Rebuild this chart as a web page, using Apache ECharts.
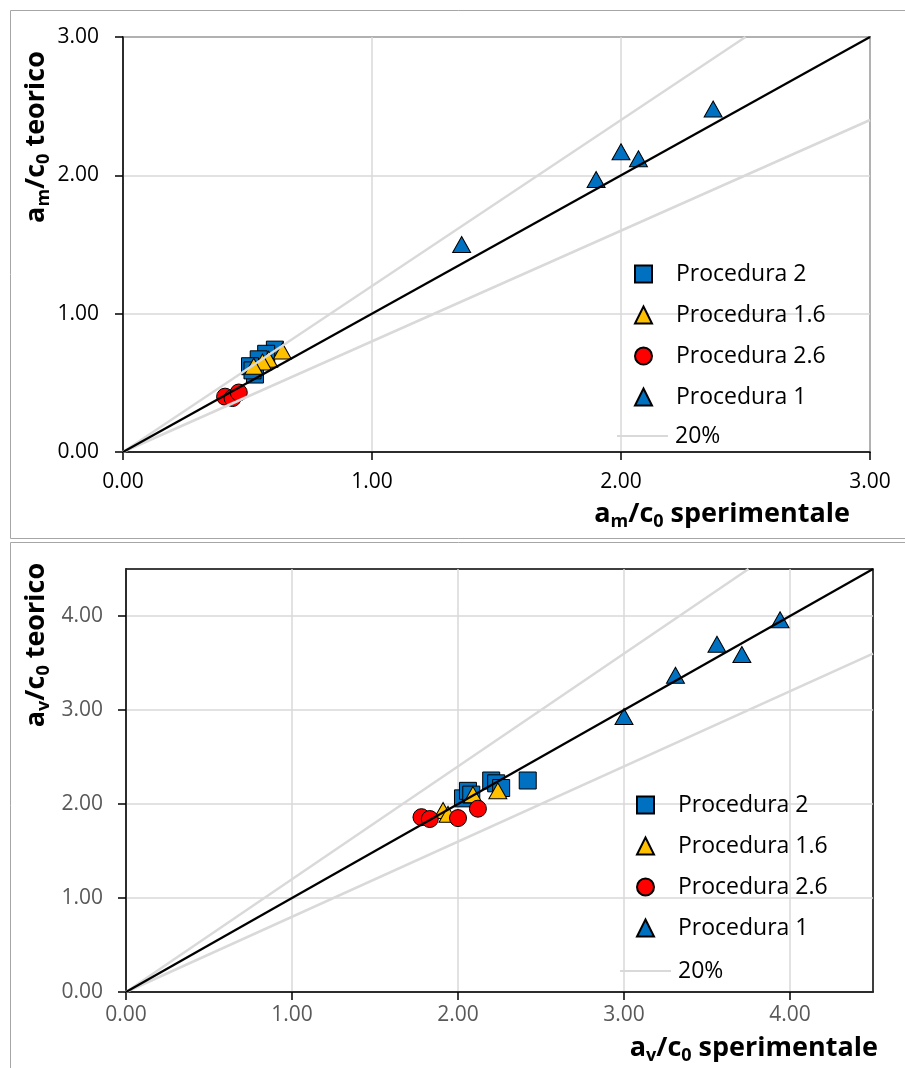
<!DOCTYPE html>
<html><head><meta charset="utf-8">
<script src="https://cdn.jsdelivr.net/npm/echarts@6/dist/echarts.min.js"></script>
<style>html,body{margin:0;padding:0;background:#fff}#c{width:905px;height:1068px}</style>
</head><body><div id="c"></div>
<script>
// ---- Data (top: a_m/c_0, bottom: a_v/c_0) ----
const legendNames = ['Procedura 2', 'Procedura 1.6', 'Procedura 2.6', 'Procedura 1'];
const bandName = '20%';
const topTicks = [0, 1, 2, 3];
const botTicks = [0, 1, 2, 3, 4];
const topMax = 3;
const botMax = 4.5;
const bandRatios = [1.2, 0.8];

const p2Top  = [[0.61,0.74],[0.575,0.71],[0.545,0.67],[0.51,0.62],[0.53,0.56],[0.52,0.59]];
const p16Top = [[0.64,0.73],[0.585,0.67],[0.56,0.65],[0.525,0.62]];
const p26Top = [[0.41,0.40],[0.44,0.39],[0.465,0.43]];
const p1Top  = [[1.36,1.50],[1.90,1.97],[2.00,2.17],[2.07,2.12],[2.37,2.48]];

const p2Bot  = [[2.03,2.06],[2.06,2.14],[2.08,2.10],[2.20,2.25],[2.23,2.22],[2.26,2.17],[2.42,2.25]];
const p16Bot = [[1.91,1.93],[1.94,1.89],[2.09,2.10],[2.24,2.14]];
const p26Bot = [[1.78,1.86],[1.83,1.84],[2.00,1.85],[2.12,1.95]];
const p1Bot  = [[3.00,2.93],[3.31,3.37],[3.56,3.70],[3.71,3.59],[3.94,3.96]];

const topSets = [p2Top, p16Top, p26Top, p1Top];
const botSets = [p2Bot, p16Bot, p26Bot, p1Bot];

// ---- Styles ----
const FONT = 'Open Sans';
const symbols = ['rect', 'triangle', 'circle', 'triangle'];
const sizes = [17, [18, 16], 17, [18, 16]];
const colors = ['#0070C0', '#FFC000', '#FF0000', '#0070C0'];
const GRID = '#D9D9D9';

function bandLine(ratio, max) {
  // line y = ratio * x clipped to the square [0,max]
  const xEnd = ratio > 1 ? max / ratio : max;
  return [[0, 0], [xEnd, xEnd * ratio]];
}

const series = [];
function addChart(idx, sets, max) {
  sets.forEach((d, i) => {
    series.push({
      type: 'scatter', name: legendNames[i], xAxisIndex: idx, yAxisIndex: idx,
      data: d, symbol: symbols[i], symbolSize: sizes[i], z: 2,
      itemStyle: { color: colors[i], borderColor: '#000', borderWidth: 1, opacity: 1 },
      emphasis: { disabled: true }
    });
  });
  bandRatios.forEach(r => {
    series.push({
      type: 'line', name: bandName, xAxisIndex: idx, yAxisIndex: idx,
      data: bandLine(r, max), showSymbol: false, symbol: 'none', z: 3,
      color: GRID, lineStyle: { color: GRID, width: 2.5 }, silent: true
    });
  });
  series.push({
    type: 'line', name: '1:1', xAxisIndex: idx, yAxisIndex: idx,
    data: [[0, 0], [max, max]], showSymbol: false, symbol: 'none', z: 4,
    lineStyle: { color: '#000', width: 2.25 }, silent: true
  });
}
addChart(0, topSets, topMax);
addChart(1, botSets, botMax);

function valAxis(max, ticks, labelColor, margin) {
  return {
    type: 'value', min: 0, max: max, interval: 1,
    axisLine: { show: true, onZero: false, lineStyle: { color: '#000', width: 1.5 } },
    axisTick: { show: true, inside: false, length: 8, customValues: ticks, lineStyle: { color: '#000', width: 1.5 } },
    axisLabel: { customValues: ticks, margin: margin, color: labelColor, fontFamily: FONT, fontSize: 21,
      formatter: v => v.toFixed(2) },
    splitLine: { show: true, lineStyle: { color: GRID, width: 1.5 } }
  };
}

function legendPair(top, left, left2, top2) {
  return [
    { data: legendNames, orient: 'vertical', left: left, top: top, padding: 0, itemWidth: 17, itemHeight: 17,
      itemGap: 17, selectedMode: false,
      textStyle: { fontFamily: FONT, fontSize: 23, color: '#000', lineHeight: 24, padding: [0, 0, 0, 19] } },
    { data: [{ name: bandName, icon: 'rect' }], orient: 'vertical', left: left2, top: top2, padding: 0,
      itemWidth: 51, itemHeight: 2, selectedMode: false,
      itemStyle: { color: GRID },
      textStyle: { fontFamily: FONT, fontSize: 23, color: '#000', lineHeight: 24, padding: [0, 0, 0, 2] } }
  ];
}

const titleRich = (color) => ({
  m: { fontFamily: FONT, fontWeight: 'bold', fontSize: 27, color: color, lineHeight: 34, verticalAlign: 'middle' },
  s: { fontFamily: FONT, fontWeight: 'bold', fontSize: 18, color: color, lineHeight: 16, verticalAlign: 'bottom' }
});

const option = {
  animation: false,
  backgroundColor: '#fff',
  grid: [
    { left: 123, top: 37, width: 747, height: 415, show: true, borderColor: '#000', borderWidth: 1.5, backgroundColor: 'transparent' },
    { left: 126, top: 569, width: 747, height: 423, show: true, borderColor: '#000', borderWidth: 1.5, backgroundColor: 'transparent' }
  ],
  xAxis: [
    Object.assign(valAxis(topMax, topTicks, '#000', 20), { gridIndex: 0 }),
    Object.assign(valAxis(botMax, botTicks, '#595959', 13), { gridIndex: 1 })
  ],
  yAxis: [
    Object.assign(valAxis(topMax, topTicks, '#000', 24), { gridIndex: 0 }),
    Object.assign(valAxis(botMax, botTicks, '#595959', 23), { gridIndex: 1 })
  ],
  legend: [].concat(legendPair(262, 634, 617, 424), legendPair(793, 636, 620, 959)),
  series: series,
  graphic: [
    { type: 'rect', shape: { x: 10.5, y: 10.5, width: 900, height: 528 }, style: { fill: 'none', stroke: '#A6A6A6', lineWidth: 1 }, z: -10, silent: true },
    { type: 'rect', shape: { x: 10.5, y: 542.5, width: 900, height: 530 }, style: { fill: 'none', stroke: '#A6A6A6', lineWidth: 1 }, z: -10, silent: true },
    { type: 'text', x: 850, y: 514, style: { text: '{m|a}{s|m}{m|/c}{s|0}{m| sperimentale}', rich: titleRich('#000'), align: 'right', verticalAlign: 'middle' } },
    { type: 'text', x: 878, y: 1048, style: { text: '{m|a}{s|v}{m|/c}{s|0}{m| sperimentale}', rich: titleRich('#000'), align: 'right', verticalAlign: 'middle' } },
    { type: 'text', x: 36, y: 137, rotation: Math.PI / 2, style: { text: '{m|a}{s|m}{m|/c}{s|0}{m| teorico}', rich: titleRich('#0070C0'), align: 'center', verticalAlign: 'middle' } },
    { type: 'text', x: 36, y: 645, rotation: Math.PI / 2, style: { text: '{m|a}{s|v}{m|/c}{s|0}{m| teorico}', rich: titleRich('#0070C0'), align: 'center', verticalAlign: 'middle' } }
  ]
};

const chart = echarts.init(document.getElementById('c'), null, { renderer: 'canvas' });
chart.setOption(option);
</script>
</body></html>
